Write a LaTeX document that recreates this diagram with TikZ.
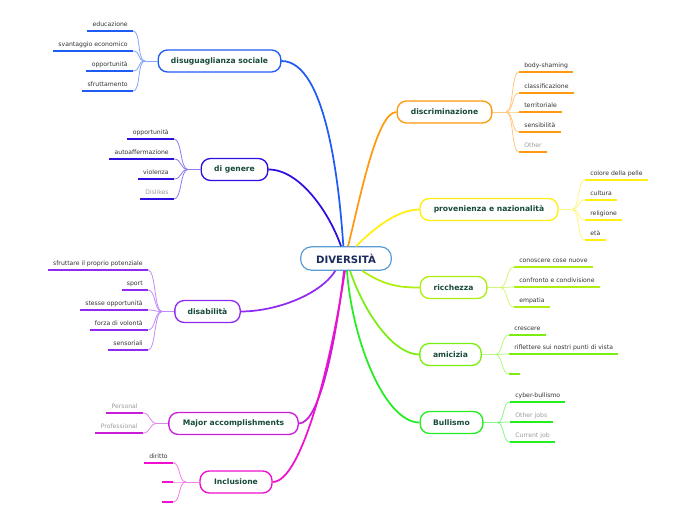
\documentclass[tikz,border=0pt]{standalone}
\usepackage{fontspec}
\setmainfont{DejaVu Sans}
\usetikzlibrary{positioning}
\definecolor{mapnavy}{HTML}{1B2B5C}
\definecolor{mapgreen}{HTML}{174A3A}
\definecolor{mapleaf}{HTML}{333333}
\definecolor{mapgray}{HTML}{9C9C9C}
\definecolor{maproot}{HTML}{5B9BD5}
\definecolor{cdisu}{HTML}{1F5BF5}
\definecolor{cgen}{HTML}{2C10E0}
\definecolor{cdab}{HTML}{8F2BF0}
\definecolor{cmaj}{HTML}{C81ED8}
\definecolor{cinc}{HTML}{F00FCF}
\definecolor{cdsc}{HTML}{FF9A10}
\definecolor{cpro}{HTML}{FFEE10}
\definecolor{cric}{HTML}{AEEE10}
\definecolor{cami}{HTML}{7AEE10}
\definecolor{cbul}{HTML}{22EE22}

\begin{document}
\begin{tikzpicture}[
  x=0.75pt,
  y=0.75pt,
  root/.style={draw=maproot, line width=0.9pt, fill=white, rounded corners=8pt,
               minimum width=68pt, minimum height=17.5pt, inner sep=2pt,
               font=\bfseries\fontsize{7.6}{9}\selectfont, text=mapnavy},
  topic/.style={draw=#1, line width=1pt, fill=white, rounded corners=7pt,
                minimum height=16.5pt, inner sep=3pt,
                font=\bfseries\fontsize{5.7}{7}\selectfont, text=mapgreen},
  limb/.style={draw=#1, line width=1.3pt},
  twig/.style={draw=#1!55, line width=0.6pt},
  uline/.style={draw=#1, line width=1.5pt},
  leafl/.style={anchor=south east, inner xsep=3.8pt, inner ysep=2pt,
                text depth=1.1pt, font=\fontsize{4.6}{5.5}\selectfont},
  leafr/.style={leafl, anchor=south west}
]
  \useasboundingbox (0,0) rectangle (696,-520);

  %% ---- centre and topics ---------------------------------------------
  \node[root] (root) at (346,-258.5) {DIVERSITÀ};

  \node[topic=cdisu, minimum width=92pt] (disu) at (219.5,-61) {disuguaglianza sociale};
  \node[topic=cgen, minimum width=50pt] (gen) at (234.5,-169.5) {di genere};
  \node[topic=cdab, minimum width=49pt] (dab) at (207.5,-311.5) {disabilità};
  \node[topic=cmaj, minimum width=97pt] (maj) at (233.5,-423.5) {Major accomplishments};
  \node[topic=cinc, minimum width=54pt] (inc) at (236,-482) {Inclusione};

  \node[topic=cdsc, minimum width=71pt] (dsc) at (444.5,-112) {discriminazione};
  \node[topic=cpro, minimum width=103.5pt] (pro) at (489,-209.5) {provenienza e nazionalità};
  \node[topic=cric, minimum width=50pt] (ric) at (453.5,-287.5) {ricchezza};
  \node[topic=cami, minimum width=46pt] (ami) at (450.5,-354.5) {amicizia};
  \node[topic=cbul, minimum width=47pt] (bul) at (451.5,-422.5) {Bullismo};

  %% ---- limbs from the centre -----------------------------------------
  \draw[limb=cdisu] ([xshift=-2pt]root.north) .. controls +(-4,60) and +(45,0) .. (disu.east);
  \draw[limb=cgen] ([xshift=-3.75pt]root.north) .. controls +(-11,32) and +(32,0) .. (gen.east);
  \draw[limb=cdsc] ([xshift=1.5pt]root.north) .. controls +(12,47) and +(-20,0) .. (dsc.west);
  \draw[limb=cpro] ([xshift=7.5pt]root.north) .. controls +(19,19) and +(-21,0) .. (pro.west);

  \draw[limb=cdab] ([xshift=-8pt]root.south) .. controls +(-15,-24) and +(35,0) .. (dab.east);
  \draw[limb=cmaj] ([xshift=-1.5pt]root.south) .. controls +(-8,-69) and +(21,0) .. (maj.east);
  \draw[limb=cinc] ([xshift=-0.75pt]root.south) .. controls +(-15,-99) and +(28,0) .. (inc.east);
  \draw[limb=cric] ([xshift=12pt]root.south) .. controls +(23,-15) and +(-20,0) .. (ric.west);
  \draw[limb=cami] ([xshift=3pt]root.south) .. controls +(15,-44) and +(-25,0) .. (ami.west);
  \draw[limb=cbul] ([xshift=0.75pt]root.south) .. controls +(5,-69) and +(-35,0) .. (bul.west);

  %% ---- left leaves ----------------------------------------------------
  \coordinate (disuB) at (145,-61);
  \draw[twig=cdisu] (disu.west) -- (disuB);
  \foreach \txt/\yy/\tc [count=\i] in {educazione/31/mapleaf, svantaggio economico/51/mapleaf,
      opportunità/71/mapleaf, sfruttamento/91/mapleaf}{
    \node[leafl, text=\tc] (disu\i) at (133,-\yy) {\txt};
    \draw[uline=cdisu] (disu\i.south west) -- (disu\i.south east);
    \draw[twig=cdisu] (disu\i.south east) .. controls +(8,0) and +(-8,0) .. (disuB);
  }

  \coordinate (genB) at (188,-169.5);
  \draw[twig=cgen] (gen.west) -- (genB);
  \foreach \txt/\yy/\tc [count=\i] in {opportunità/139/mapleaf, autoaffermazione/159/mapleaf,
      violenza/179/mapleaf, Dislikes/199/mapgray}{
    \node[leafl, text=\tc] (gen\i) at (174,-\yy) {\txt};
    \draw[uline=cgen] (gen\i.south west) -- (gen\i.south east);
    \draw[twig=cgen] (gen\i.south east) .. controls +(8,0) and +(-8,0) .. (genB);
  }

  \coordinate (dabB) at (162,-311.5);
  \draw[twig=cdab] (dab.west) -- (dabB);
  \foreach \txt/\yy/\tc [count=\i] in {sfruttare il proprio potenziale/270/mapleaf, sport/290/mapleaf,
      stesse opportunità/310/mapleaf, forza di volontà/330/mapleaf, sensoriali/350/mapleaf}{
    \node[leafl, text=\tc] (dab\i) at (148,-\yy) {\txt};
    \draw[uline=cdab] (dab\i.south west) -- (dab\i.south east);
    \draw[twig=cdab] (dab\i.south east) .. controls +(8,0) and +(-8,0) .. (dabB);
  }

  \coordinate (majB) at (157,-423.5);
  \draw[twig=cmaj] (maj.west) -- (majB);
  \foreach \txt/\yy/\tc [count=\i] in {Personal/413/mapgray, Professional/433/mapgray}{
    \node[leafl, text=\tc] (maj\i) at (143,-\yy) {\txt};
    \draw[uline=cmaj] (maj\i.south west) -- (maj\i.south east);
    \draw[twig=cmaj] (maj\i.south east) .. controls +(8,0) and +(-8,0) .. (majB);
  }

  \coordinate (incB) at (186,-482);
  \draw[twig=cinc] (inc.west) -- (incB);
  \foreach \txt/\yy/\tc [count=\i] in {diritto/463/mapleaf, /482/mapleaf, /502/mapleaf}{
    \node[leafl, text=\tc] (inc\i) at (173,-\yy) {\txt};
    \draw[uline=cinc] (inc\i.south west) -- (inc\i.south east);
    \draw[twig=cinc] (inc\i.south east) .. controls +(8,0) and +(-8,0) .. (incB);
  }

  %% ---- right leaves ---------------------------------------------------
  \coordinate (dscB) at (506,-112);
  \draw[twig=cdsc] (dsc.east) -- (dscB);
  \foreach \txt/\yy/\tc [count=\i] in {body-shaming/72/mapleaf, classificazione/93/mapleaf,
      territoriale/112/mapleaf, sensibilità/132/mapleaf, Other/152/mapgray}{
    \node[leafr, text=\tc] (dsc\i) at (519,-\yy) {\txt};
    \draw[uline=cdsc] (dsc\i.south west) -- (dsc\i.south east);
    \draw[twig=cdsc] (dsc\i.south west) .. controls +(-8,0) and +(8,0) .. (dscB);
  }

  \coordinate (proB) at (572,-209.5);
  \draw[twig=cpro] (pro.east) -- (proB);
  \foreach \txt/\yy/\tc [count=\i] in {colore della pelle/180/mapleaf, cultura/200/mapleaf,
      religione/220/mapleaf, età/240/mapleaf}{
    \node[leafr, text=\tc] (pro\i) at (585,-\yy) {\txt};
    \draw[uline=cpro] (pro\i.south west) -- (pro\i.south east);
    \draw[twig=cpro] (pro\i.south west) .. controls +(-8,0) and +(8,0) .. (proB);
  }

  \coordinate (ricB) at (500,-287.5);
  \draw[twig=cric] (ric.east) -- (ricB);
  \foreach \txt/\yy/\tc [count=\i] in {conoscere cose nuove/267/mapleaf,
      confronto e condivisione/287/mapleaf, empatia/307/mapleaf}{
    \node[leafr, text=\tc] (ric\i) at (514,-\yy) {\txt};
    \draw[uline=cric] (ric\i.south west) -- (ric\i.south east);
    \draw[twig=cric] (ric\i.south west) .. controls +(-8,0) and +(8,0) .. (ricB);
  }

  \coordinate (amiB) at (495,-354.5);
  \draw[twig=cami] (ami.east) -- (amiB);
  \foreach \txt/\yy/\tc [count=\i] in {crescere/335/mapleaf,
      riflettere sui nostri punti di vista/354/mapleaf, /374/mapleaf}{
    \node[leafr, text=\tc] (ami\i) at (509,-\yy) {\txt};
    \draw[uline=cami] (ami\i.south west) -- (ami\i.south east);
    \draw[twig=cami] (ami\i.south west) .. controls +(-8,0) and +(8,0) .. (amiB);
  }

  \coordinate (bulB) at (497,-422.5);
  \draw[twig=cbul] (bul.east) -- (bulB);
  \foreach \txt/\yy/\tc [count=\i] in {cyber-bullismo/402/mapleaf, Other jobs/422/mapgray,
      Current job/442/mapgray}{
    \node[leafr, text=\tc] (bul\i) at (510,-\yy) {\txt};
    \draw[uline=cbul] (bul\i.south west) -- (bul\i.south east);
    \draw[twig=cbul] (bul\i.south west) .. controls +(-8,0) and +(8,0) .. (bulB);
  }

\end{tikzpicture}
\end{document}
